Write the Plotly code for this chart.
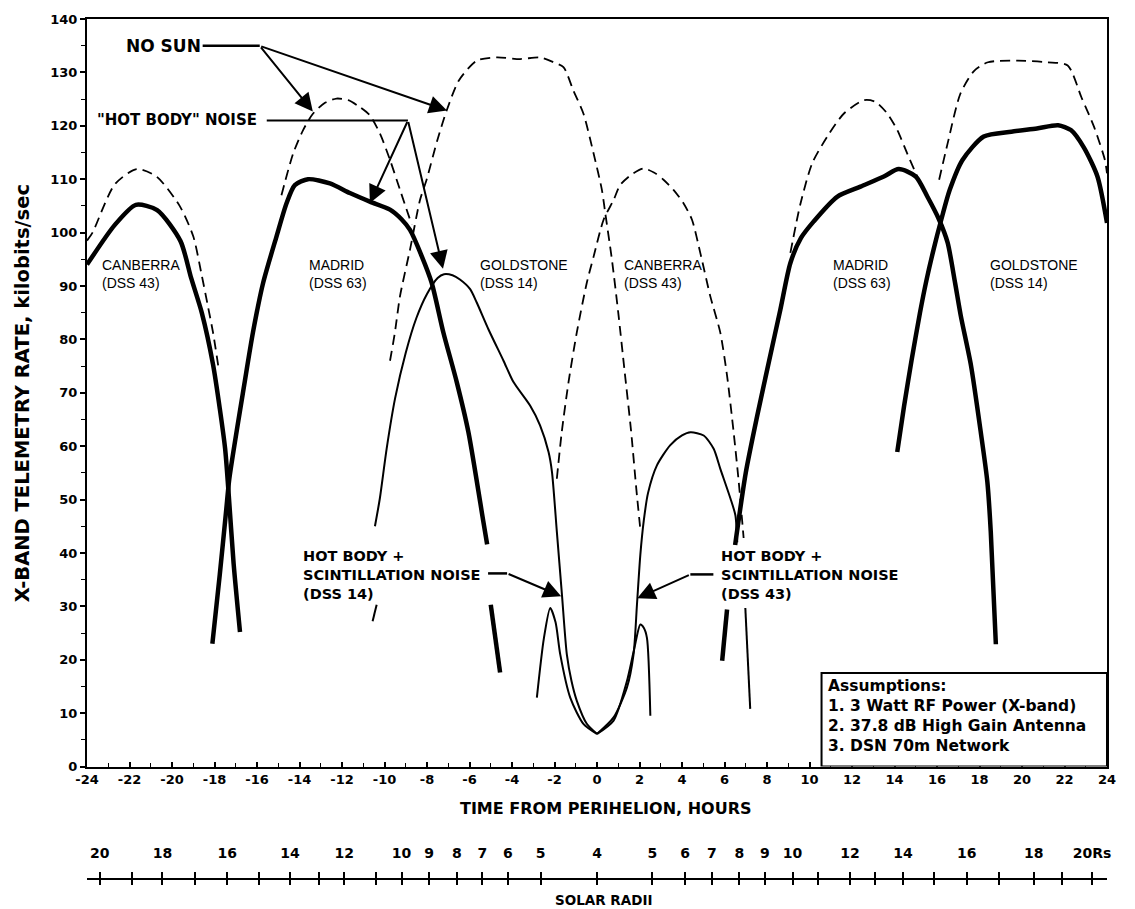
import plotly.graph_objects as go

# ---------------- data (hours from perihelion, kbit/s) ----------------
canb1_thick_x = [-24, -22.7, -21.7, -20.7, -19.6, -19.1, -18.6, -18.07, -17.75, -17.5, -17.35, -17.1, -16.8]
canb1_thick_y = [94, 101.4, 105.2, 104.2, 98.4, 91.5, 85, 75.3, 67, 59.5, 52, 38, 25.2]

canb1_dash_x = [-24, -23.74, -22.7, -21.67, -20.73, -19.64, -19.0, -18.6, -18.3, -18.07, -17.8]
canb1_dash_y = [98.5, 100, 109, 111.9, 110.5, 105, 99.3, 92, 86, 81.3, 74.4]

madr1_thick_x = [-18.1, -17.75, -17.45, -17.3, -16.58, -16.19, -15.71, -15.08, -14.61, -14.22, -13.6,
                 -12.57, -11.63, -10.69, -9.74, -9.2, -8.8, -8.25, -7.78, -7.23, -6.6, -6.05, -5.35, -5.17]
madr1_thick_y = [23, 36, 48, 54, 72, 81.3, 90.6, 99.3, 105.5, 108.9, 110, 109.2, 107.4, 105.8, 104.3,
                 102.5, 100.5, 95.6, 90.6, 81.3, 72, 62.6, 45.9, 41.6]
madr1_tail_x = [-5.0, -4.56]
madr1_tail_y = [30.3, 17.6]

madr1_dash_x = [-14.85, -14.3, -13.83, -13.36, -12.8, -12.26, -11.7, -11.16, -10.7, -10.22, -9.74, -9.27, -8.72]
madr1_dash_y = [107, 114.8, 119.2, 122.3, 124.3, 125.1, 124.8, 123.5, 122, 118.6, 113.6, 108, 101.5]

gold1_dash_x = [-9.74, -9.51, -9.27, -8.8, -8.33, -8.02, -7.5, -7.07, -6.5, -5.66, -4.72, -3.62, -2.68,
                -2.05, -1.58, -1.11, -0.64, -0.16, 0.23, 0.39, 0.7, 1.0, 1.3, 1.6, 1.85, 2.05]
gold1_dash_y = [76, 81.3, 88.1, 96.8, 106.1, 109.9, 117.5, 122.9, 128.5, 132.2, 132.8, 132.5, 132.8,
                131.9, 131, 126.6, 122.3, 114.8, 108, 103.6, 95, 85, 74, 63, 52, 44]

canb2_dash_x = [-1.89, -1.66, -1.34, -0.95, -0.48, -0.16, 0.31, 0.78, 1.09, 1.6, 2.19, 2.7, 3.13, 3.6,
                4.07, 4.47, 4.86, 5.33, 5.8, 6.12, 6.43, 6.67, 6.9]
canb2_dash_y = [53.9, 62.6, 72, 81.3, 90.6, 95.5, 102.4, 106.1, 108.9, 110.8, 112, 111.2, 109.9, 108,
                105.5, 102.4, 96.2, 88.1, 81.3, 73.2, 62.6, 53.3, 42.8]

gold1_thin_head_x = [-10.56, -10.37]
gold1_thin_head_y = [27.2, 30.3]
gold1_thin_x = [-10.45, -10.22, -9.9, -9.5, -9.0, -8.5, -8.0, -7.5, -7.2, -6.8, -6.45, -5.97, -5.66, -5.11,
                -4.4, -3.93, -3.15, -2.68, -2.28, -2.12, -1.89, -1.65, -1.42, -1.2, -0.95, -0.48, 0.0]
gold1_thin_y = [45, 50.2, 59.5, 69, 77.5, 84, 88.5, 91.5, 92.2, 92, 91.2, 89.4, 86.9, 81.9, 76, 72, 67.6,
                63.9, 58.9, 55.2, 44, 32.2, 21, 16, 12.3, 8, 6.1]

canb2_thin_x = [0.0, 0.78, 1.41, 1.72, 1.88, 2.04, 2.2, 2.4, 2.82, 3.45, 4.0, 4.4, 5.02, 5.49, 5.8, 6.28, 6.51, 6.6]
canb2_thin_y = [6.1, 9.2, 14.8, 21, 30.3, 39.7, 46, 51.2, 56.4, 60.2, 62, 62.6, 62, 59.5, 55.8, 50.2, 47.1, 42]
canb2_thin_tail_x = [6.98, 7.21]
canb2_thin_tail_y = [29.7, 10.8]

scint14_x = [-2.83, -2.5, -2.2, -1.95, -1.73, -1.26, -0.64, 0.0]
scint14_y = [12.9, 24, 29.7, 27, 21, 12.9, 8, 6.1]
scint43_x = [0.0, 0.78, 1.41, 1.75, 2.04, 2.2, 2.35, 2.51]
scint43_y = [6.1, 8.6, 16, 22, 26.6, 26, 24.1, 9.5]

madr2_head_x = [5.89, 6.12]
madr2_head_y = [19.8, 29.4]
madr2_thick_x = [6.5, 7.0, 7.54, 8.1, 8.63, 9.1, 9.6, 10.2, 11.3, 12.4, 13.5, 14.2, 15.0, 15.55, 16.1,
                 16.5, 16.85, 17.12, 17.6, 18.06, 18.37, 18.53, 18.77]
madr2_thick_y = [41.5, 55, 65.7, 76, 85.6, 94.3, 99, 102.1, 106.7, 108.6, 110.5, 111.9, 110.5, 106.7,
                 102.4, 98.1, 90.6, 84.4, 75.1, 62.6, 53.3, 44, 22.9]

madr2_dash_x = [9.1, 9.58, 10.13, 10.84, 11.62, 12.56, 13.1, 13.66, 14.13, 14.6, 15.07]
madr2_dash_y = [96.2, 105.5, 113, 118, 122.3, 124.8, 124.5, 122.3, 119.2, 114.8, 110.5]

gold2_thick_x = [14.13, 14.45, 14.8, 15.2, 15.5, 15.85, 16.2, 16.6, 17.2, 18.2, 19.5, 20.7, 21.7,
                 22.3, 22.9, 23.55, 24.0]
gold2_thick_y = [58.9, 67.5, 76, 85, 91, 97, 102.4, 108, 113.6, 118, 118.9, 119.5, 120.1, 119.2,
                 116, 110.5, 101.8]

gold2_dash_x = [16.1, 16.5, 17.1, 17.75, 18.4, 19.8, 21.2, 22.15, 22.8, 23.4, 23.9, 24.0]
gold2_dash_y = [109.9, 116.7, 126, 130.3, 131.9, 132.2, 131.9, 131.3, 125.3, 119.7, 113.6, 111.1]

# axis ticks
time_ticks = list(range(-24, 25, 2))
rate_ticks = list(range(0, 141, 10))
solar_tick_hours = [-23.4, -21.9, -20.45, -18.9, -17.4, -15.9, -14.45, -13.1, -11.9, -10.4, -9.2, -7.9,
                    -6.6, -5.4, -4.2, -2.65, 0.0, 2.6, 4.15, 5.4, 6.7, 7.9, 9.2, 10.4, 11.9, 13.1, 14.4,
                    15.85, 17.4, 18.9, 20.55, 21.9, 23.3]
solar_tick_text = ["20", "", "18", "", "16", "", "14", "", "12", "", "10", "9", "8", "7", "6", "5", "4",
                   "5", "6", "7", "8", "9", "10", "", "12", "", "14", "", "16", "", "18", "", "20Rs"]

station_names = ["CANBERRA<br>(DSS 43)", "MADRID<br>(DSS 63)", "GOLDSTONE<br>(DSS 14)",
                 "CANBERRA<br>(DSS 43)", "MADRID<br>(DSS 63)", "GOLDSTONE<br>(DSS 14)"]
station_x = [-23.41, -13.66, -5.6, 1.19, 10.99, 18.39]
station_y = [95.8] * 6

# ---------------- figure ----------------
BOLD = "DejaVu Sans"
fig = go.Figure()

THICK = dict(color="black", width=4.5)
THIN = dict(color="black", width=2)
DASH = dict(color="black", width=1.8, dash="10px,6px")


def add(x, y, line):
    fig.add_trace(go.Scatter(x=x, y=y, mode="lines", line=dict(shape="spline", smoothing=0.7, **line),
                             showlegend=False, hoverinfo="skip"))


add(canb1_dash_x, canb1_dash_y, DASH)
add(madr1_dash_x, madr1_dash_y, DASH)
add(gold1_dash_x, gold1_dash_y, DASH)
add(canb2_dash_x, canb2_dash_y, DASH)
add(madr2_dash_x, madr2_dash_y, DASH)
add(gold2_dash_x, gold2_dash_y, DASH)

add(gold1_thin_head_x, gold1_thin_head_y, THIN)
add(gold1_thin_x, gold1_thin_y, THIN)
add(canb2_thin_x, canb2_thin_y, THIN)
add(canb2_thin_tail_x, canb2_thin_tail_y, THIN)
add(scint14_x, scint14_y, THIN)
add(scint43_x, scint43_y, THIN)

add(canb1_thick_x, canb1_thick_y, THICK)
add(madr1_thick_x, madr1_thick_y, THICK)
add(madr1_tail_x, madr1_tail_y, THICK)
add(madr2_head_x, madr2_head_y, THICK)
add(madr2_thick_x, madr2_thick_y, THICK)
add(gold2_thick_x, gold2_thick_y, THICK)

# placeholder traces so the solar-radii axes are drawn
for ax in ("x2", "x3"):
    fig.add_trace(go.Scatter(x=[None], y=[None], xaxis=ax, yaxis="y", mode="lines",
                             showlegend=False, hoverinfo="skip"))

# plot geometry (pixels)
W, H = 1135, 909
ML, MR, MT, MB = 87, 28, 15, 30
y_bottom_px = 766
dom0 = (H - MB - y_bottom_px) / (H - MT - MB)

fig.update_layout(
    width=W, height=H,
    margin=dict(l=ML, r=MR, t=MT, b=MB),
    paper_bgcolor="white", plot_bgcolor="white",
    showlegend=False,
    xaxis=dict(range=[-24, 24], tickvals=time_ticks, ticktext=[str(t) for t in time_ticks],
               ticks="inside", ticklen=5, tickwidth=1.5, tickcolor="black",
               minor=dict(dtick=1, tick0=0, ticks="inside", ticklen=4, tickwidth=1.2, tickcolor="black"),
               showline=True, linecolor="black", linewidth=2, mirror=True,
               showgrid=False, zeroline=False,
               tickfont=dict(family=BOLD, size=13, color="black", weight="bold")),
    yaxis=dict(range=[0, 140], domain=[dom0, 1], tickvals=rate_ticks,
               ticks="outside", ticklen=5, tickwidth=1.5, tickcolor="black",
               minor=dict(dtick=5, tick0=0, ticks="outside", ticklen=4, tickwidth=1.2, tickcolor="black"),
               showline=True, linecolor="black", linewidth=2, mirror=True,
               showgrid=False, zeroline=False,
               tickfont=dict(family=BOLD, size=13, color="black", weight="bold")),
    xaxis2=dict(range=[-24, 24], overlaying="x", anchor="free", position=0, side="top",
                tickvals=solar_tick_hours, ticktext=solar_tick_text,
                ticks="outside", ticklen=6, tickwidth=1.5, tickcolor="black",
                showline=True, linecolor="black", linewidth=2,
                showgrid=False, zeroline=False, ticklabelstandoff=8,
                tickfont=dict(family=BOLD, size=14, color="black", weight="bold")),
    xaxis3=dict(range=[-24, 24], overlaying="x", anchor="free", position=0, side="bottom",
                tickvals=solar_tick_hours, showticklabels=False,
                ticks="outside", ticklen=5, tickwidth=1.5, tickcolor="black",
                showline=False, showgrid=False, zeroline=False),
)


def px2x(px):
    return (px - 87.5) / 21.22 - 24


def py2y(py):
    return (766 - py) / 5.364


def txt(x, y, text, size, family=BOLD, weight="bold", xanchor="left", yanchor="middle", align="left"):
    fig.add_annotation(x=x, y=y, xref="x", yref="y", text=text, showarrow=False,
                       xanchor=xanchor, yanchor=yanchor, align=align,
                       font=dict(family=family, size=size, color="black", weight=weight))


def seg(x0, y0, x1, y1, w=2):
    fig.add_shape(type="line", xref="x", yref="y", x0=x0, y0=y0, x1=x1, y1=y1,
                  line=dict(color="black", width=w))


def arrow(x0, y0, x1, y1):
    fig.add_annotation(x=x1, y=y1, ax=x0, ay=y0, xref="x", yref="y", axref="x", ayref="y",
                       text="", showarrow=True, arrowhead=2, arrowsize=1.8, arrowwidth=2,
                       arrowcolor="black")


# station labels
for sx, sy, name in zip(station_x, station_y, station_names):
    txt(sx, sy, name, 14, family="Liberation Sans, Arial", weight="normal", yanchor="top")

# NO SUN
txt(px2x(203), py2y(42), "NO SUN", 17, xanchor="right")
seg(px2x(203), py2y(42), px2x(260), py2y(42), 2.5)
arrow(px2x(260), py2y(42), px2x(313), py2y(108))
arrow(px2x(260), py2y(42), px2x(447), py2y(107))

# "HOT BODY" NOISE
txt(px2x(259), py2y(117), "\"HOT BODY\" NOISE", 15, xanchor="right")
seg(px2x(267), py2y(117), px2x(408), py2y(117), 2)
arrow(px2x(408), py2y(117), px2x(370), py2y(200))
arrow(px2x(408), py2y(117), px2x(443), py2y(266))

# scintillation labels
txt(px2x(301), py2y(544), "HOT BODY +<br>SCINTILLATION NOISE<br>(DSS 14)", 14.5, yanchor="top")
seg(px2x(488), py2y(572), px2x(507), py2y(572), 2.5)
arrow(px2x(507), py2y(572), px2x(561), py2y(595))

txt(px2x(719), py2y(544), "HOT BODY +<br>SCINTILLATION NOISE<br>(DSS 43)", 14.5, yanchor="top")
seg(px2x(713), py2y(573), px2x(690), py2y(573), 2.5)
arrow(px2x(690), py2y(573), px2x(637), py2y(597))

# assumptions box
fig.add_shape(type="rect", xref="x", yref="y", x0=px2x(821), y0=0, x1=24, y1=py2y(672),
              line=dict(color="black", width=2), fillcolor="white", layer="above")
txt(px2x(825), py2y(674),
    "Assumptions:<br>1. 3 Watt RF Power (X-band)<br>2. 37.8 dB High Gain Antenna<br>3. DSN 70m Network",
    15.5, yanchor="top")

# axis titles
fig.add_annotation(xref="paper", yref="paper", x=(22 - ML) / (W - ML - MR), y=(H - MB - 391) / (H - MT - MB),
                   text="X-BAND TELEMETRY RATE, kilobits/sec", textangle=-90, showarrow=False,
                   xanchor="center", yanchor="middle",
                   font=dict(family=BOLD, size=19.5, color="black", weight="bold"))
fig.add_annotation(xref="x", yref="paper", x=px2x(606), y=(H - MB - 808) / (H - MT - MB),
                   text="TIME FROM PERIHELION, HOURS", showarrow=False, xanchor="center", yanchor="middle",
                   font=dict(family=BOLD, size=16, color="black", weight="bold"))
fig.add_annotation(xref="x", yref="paper", x=px2x(603), y=(H - MB - 900) / (H - MT - MB),
                   text="SOLAR RADII", showarrow=False, xanchor="center", yanchor="middle",
                   font=dict(family=BOLD, size=13.5, color="black", weight="bold"))

fig.write_html("out.html", config={"displayModeBar": False},
               post_script="document.body.style.margin='0px';")
